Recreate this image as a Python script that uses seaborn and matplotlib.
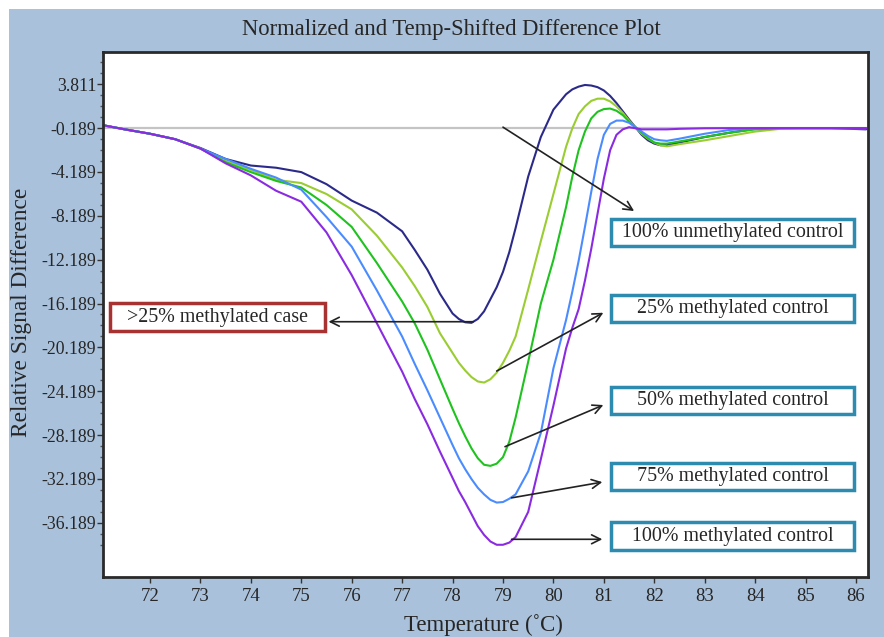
import matplotlib
matplotlib.use("Agg")
import matplotlib.pyplot as plt
from matplotlib.patches import Rectangle
import seaborn as sns
import pandas as pd
import numpy as np

# ---------------- data ----------------
temps = [71.1, 71.5, 72.0, 72.5, 73.0, 73.5, 74.0, 74.5, 75.0, 75.5, 76.0, 76.5,
         77.0, 77.25, 77.5, 77.75,
         78.0, 78.125, 78.25, 78.375, 78.5, 78.625, 78.75, 78.875, 79.0, 79.125, 79.25,
         79.5, 79.75, 80.0,
         80.25, 80.375, 80.5, 80.625, 80.75, 80.875, 81.0, 81.125, 81.25, 81.375,
         81.5, 81.625, 81.75, 81.875, 82.0, 82.125,
         82.25, 82.5, 83.0, 83.5, 84.0, 84.5, 85.0, 85.5, 86.2]

unmeth_100 = [0.05, -0.3, -0.7, -1.2, -2.0, -3.0, -3.6, -3.8, -4.2, -5.3, -6.8, -7.9,
              -9.6, -11.3, -13.1, -15.3,
              -17.1, -17.6, -17.9, -17.95, -17.6, -16.9, -15.8, -14.7, -13.3, -11.5, -9.3,
              -4.6, -1.0, 1.5,
              2.9, 3.35, 3.6, 3.75, 3.7, 3.55, 3.25, 2.75, 2.1, 1.35,
              0.6, -0.1, -0.8, -1.3, -1.6, -1.75,
              -1.75, -1.5, -1.0, -0.6, -0.25, -0.19, -0.19, -0.19, -0.3]
meth_25 = [0.05, -0.3, -0.7, -1.2, -2.05, -3.2, -4.0, -4.9, -5.2, -6.2, -7.6, -10.0,
           -12.9, -14.6, -16.5, -18.9,
           -20.7, -21.6, -22.3, -22.9, -23.3, -23.4, -23.1, -22.5, -21.6, -20.5, -19.2,
           -14.9, -10.5, -6.2,
           -1.9, -0.2, 1.1, 1.8, 2.3, 2.5, 2.5, 2.25, 1.8, 1.2,
           0.5, -0.1, -0.7, -1.15, -1.5, -1.75,
           -1.85, -1.65, -1.3, -0.9, -0.5, -0.25, -0.19, -0.19, -0.19]
meth_50 = [0.05, -0.3, -0.7, -1.2, -2.05, -3.3, -4.2, -5.0, -5.6, -7.2, -9.2, -12.5,
           -16.0, -18.0, -20.4, -23.1,
           -25.8, -27.1, -28.3, -29.4, -30.3, -30.9, -31.0, -30.8, -30.2, -28.8, -26.6,
           -21.5, -16.2, -12.2,
           -7.4, -4.6, -2.2, -0.5, 0.7, 1.3, 1.55, 1.6, 1.4, 1.0,
           0.4, -0.1, -0.6, -1.1, -1.5, -1.6,
           -1.6, -1.4, -1.0, -0.6, -0.3, -0.19, -0.19, -0.19, -0.19]
meth_75 = [0.05, -0.3, -0.7, -1.2, -2.05, -3.0, -3.9, -4.7, -5.8, -8.3, -11.0, -15.0,
           -19.2, -21.7, -24.1, -26.6,
           -29.1, -30.3, -31.3, -32.2, -33.0, -33.6, -34.1, -34.35, -34.3, -34.0, -33.6,
           -31.5, -28.0, -22.1,
           -17.7, -15.1, -12.3, -9.2, -6.0, -3.0, -0.8, 0.2, 0.5, 0.5,
           0.3, -0.1, -0.5, -0.9, -1.2, -1.3,
           -1.35, -1.15, -0.7, -0.35, -0.2, -0.19, -0.19, -0.19, -0.19]
meth_100 = [0.05, -0.3, -0.7, -1.2, -2.05, -3.4, -4.5, -5.9, -6.9, -9.7, -13.6, -18.0,
            -22.4, -24.9, -27.2, -29.7,
            -32.1, -33.3, -34.3, -35.4, -36.5, -37.3, -37.9, -38.2, -38.2, -38.0, -37.5,
            -35.2, -30.4, -25.5,
            -20.3, -18.4, -16.7, -14.1, -11.2, -8.0, -4.8, -2.2, -0.8, -0.3,
            -0.1, -0.2, -0.3, -0.3, -0.3, -0.3,
            -0.3, -0.25, -0.2, -0.19, -0.19, -0.19, -0.19, -0.19, -0.19]

series_names = ["100% unmethylated control", "25% methylated control",
                "50% methylated control", "75% methylated control",
                "100% methylated control"]
series_colors = ["#2b2a8a", "#9acd32", "#1fc21f", "#4a8cff", "#8a2be2"]

y_major = [-36.189, -32.189, -28.189, -24.189, -20.189, -16.189, -12.189,
           -8.189, -4.189, -0.189, 3.811]
x_major = [72, 73, 74, 75, 76, 77, 78, 79, 80, 81, 82, 83, 84, 85, 86]

title = "Normalized and Temp-Shifted Difference Plot"
xlabel = "Temperature (\u02daC)"
ylabel = "Relative Signal Difference"
case_label = ">25% methylated case"

# ---------------- build frame ----------------
rows = []
for name, vals in zip(series_names, [unmeth_100, meth_25, meth_50, meth_75, meth_100]):
    for t, v in zip(temps, vals):
        rows.append({"temp": t, "value": v, "sample": name})
df = pd.DataFrame(rows)

# ---------------- style ----------------
sns.set_theme(style="white")
plt.rcParams["font.family"] = ["Liberation Serif", "DejaVu Serif"]

BG = "#a9c1db"
W, H = 884, 637
fig = plt.figure(figsize=(W / 100, H / 100), dpi=100)
fig.patch.set_facecolor("white")
fig.add_artist(Rectangle((9 / W, 0), 1, 1 - 9 / H, transform=fig.transFigure,
                         facecolor=BG, edgecolor="none", zorder=-10))

L, R, T, B = 103, 868, 52, 577
ax = fig.add_axes([L / W, 1 - B / H, (R - L) / W, (B - T) / H])
ax.set_facecolor("white")

ax.axhline(-0.189, color="#c4c4c4", lw=1.6, zorder=1)

sns.lineplot(data=df, x="temp", y="value", hue="sample", hue_order=series_names,
             palette=dict(zip(series_names, series_colors)), sort=False,
             estimator=None, legend=False, linewidth=1.5, ax=ax, zorder=2)

ax.set_xlim(71.068, 86.238)
ax.set_ylim(-41.14, 6.758)

ax.set_xticks(x_major)
ax.set_xticklabels([str(v) for v in x_major])
ax.set_yticks(y_major)
ax.set_yticklabels([f"{v:.3f}" for v in y_major])
ax.set_yticks(np.arange(-38.189, 6.0, 1.0), minor=True)

ax.tick_params(axis="y", which="major", length=4, width=1, color="#333333",
               direction="out", labelsize=12.8, pad=1, left=True)
ax.tick_params(axis="y", which="minor", length=2.5, width=1, color="#555555",
               direction="out", left=True)
ax.tick_params(axis="x", which="major", length=4, width=1, color="#333333",
               direction="out", labelsize=13.5, pad=4, bottom=True)
ax.set_xlabel("")
ax.set_ylabel("")
for s in ax.spines.values():
    s.set_color("#2a2a2a")
    s.set_linewidth(2)
    s.set_visible(True)

fig.text(451 / W, 1 - 29 / H, title, ha="center", va="center", fontsize=16.3)
fig.text(483 / W, 1 - 625 / H, xlabel, ha="center", va="center", fontsize=16.5)
fig.text(22 / W, 1 - 312 / H, ylabel, ha="center", va="center", fontsize=16.8,
         rotation=90)

# ---------------- annotation boxes ----------------
box_x0, box_w, box_h = 0.664, 0.318, 0.052
box_y0 = [0.630, 0.485, 0.310, 0.166, 0.052]
for name, y0 in zip(series_names, box_y0):
    ax.add_patch(Rectangle((box_x0, y0), box_w, box_h, transform=ax.transAxes,
                           facecolor="white", edgecolor="#2e8bb0", lw=2.5,
                           zorder=5, clip_on=False))
    ax.text(box_x0 + box_w / 2, y0 + box_h / 2, name, transform=ax.transAxes,
            ha="center", va="center", fontsize=14.4, zorder=6)

ax.add_patch(Rectangle((0.009, 0.469), 0.281, 0.052, transform=ax.transAxes,
                       facecolor="white", edgecolor="#a83232", lw=2.5,
                       zorder=5, clip_on=False))
ax.text(0.009 + 0.281 / 2, 0.469 + 0.026, case_label, transform=ax.transAxes,
        ha="center", va="center", fontsize=14.4, zorder=6)

arrows = [((79.00, -0.10), (81.60, -7.75)),
          ((78.875, -22.35), (80.99, -17.03)),
          ((79.04, -29.25), (80.99, -25.45)),
          ((79.17, -33.92), (80.97, -32.48)),
          ((79.17, -37.70), (80.97, -37.70)),
          ((78.41, -17.85), (75.54, -17.85))]
for start, end in arrows:
    ax.annotate("", xy=end, xytext=start,
                arrowprops=dict(arrowstyle="->", color="#222222", lw=1.2,
                                mutation_scale=16, shrinkA=0, shrinkB=0),
                zorder=7)

fig.savefig("out.png", dpi=100)
